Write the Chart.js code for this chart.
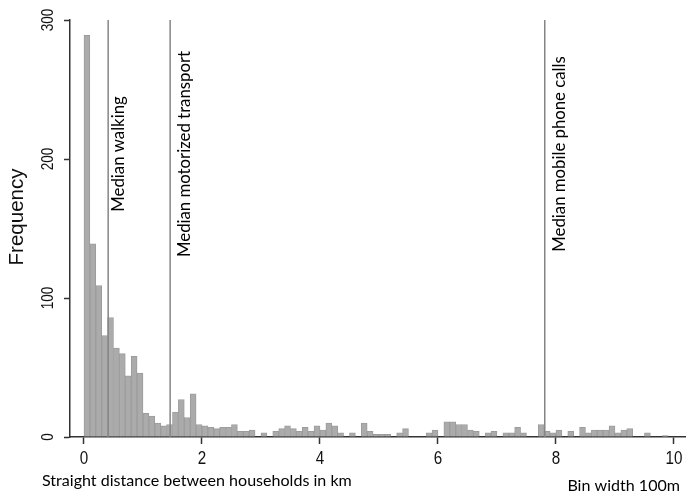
<!DOCTYPE html>
<html>
<head>
<meta charset="utf-8">
<script src="https://cdn.jsdelivr.net/npm/chart.js@4.4.1/dist/chart.umd.min.js"></script>
<style>
html,body{margin:0;padding:0;background:#ffffff;}
#wrap{width:686px;height:496px;position:relative;}
canvas{display:block;}
</style>
</head>
<body>
<div id="wrap"><canvas id="c" width="686" height="496"></canvas></div>
<script>
// ---- data ----
const binStartKm = [
  0.0,0.1,0.2,0.3,0.4,0.5,0.6,0.7,0.8,0.9,
  1.0,1.1,1.2,1.3,1.4,1.5,1.6,1.7,1.8,1.9,
  2.0,2.1,2.2,2.3,2.4,2.5,2.6,2.7,2.8,2.9,
  3.0,3.1,3.2,3.3,3.4,3.5,3.6,3.7,3.8,3.9,
  4.0,4.1,4.2,4.3,4.4,4.5,4.6,4.7,4.8,4.9,
  5.0,5.1,5.2,5.3,5.4,5.5,5.6,5.7,5.8,5.9,
  6.0,6.1,6.2,6.3,6.4,6.5,6.6,6.7,6.8,6.9,
  7.0,7.1,7.2,7.3,7.4,7.5,7.6,7.7,7.8,7.9,
  8.0,8.1,8.2,8.3,8.4,8.5,8.6,8.7,8.8,8.9,
  9.0,9.1,9.2,9.3,9.4,9.5,9.6,9.7,9.8,9.9
];
const frequency = [
  289,139,109,73,86,64,60,44,58,46,
  17,15,10,8,9,18,27,14,31,9,
  8,7,6,7,7,9,4,4,5,0,
  3,0,4,6,8,6,4,7,4,8,
  5,10,8,3,0,3,0,10,4,2,
  2,2,0,3,6,0,0,0,3,5,
  0,11,11,9,9,5,4,0,3,4,
  0,3,3,7,3,0,0,9,4,3,
  5,0,4,0,7,3,5,5,5,8,
  3,5,6,0,0,3,0,0,1,0
];
const binWidthKm = 0.1;
const medianLabels = ['Median walking', 'Median motorized transport', 'Median mobile phone calls'];
const medianKm = [0.41, 1.46, 7.81];
const xTickValues = [0, 2, 4, 6, 8, 10];
const xTickLabels = ['0', '2', '4', '6', '8', '10'];
const yTickValues = [0, 100, 200, 300];
const yTickLabels = ['0', '100', '200', '300'];
const xAxisTitle = 'Straight distance between households in km';
const yAxisTitle = 'Frequency';
const binNote = 'Bin width 100m';

// ---- helpers ----
function fitSize(ctx, text, family, targetW) {
  ctx.font = '100px ' + family;
  return 100 * targetW / ctx.measureText(text).width;
}

const LATO = 'Lato, "Open Sans", sans-serif';
const ARIAL = '"Liberation Sans", Arial, sans-serif';

const annot = {
  id: 'annot',
  afterDatasetsDraw(chart) {
    const ctx = chart.ctx;
    const x = chart.scales.x, y = chart.scales.y;
    ctx.save();
    // median lines
    ctx.strokeStyle = '#858585';
    ctx.lineWidth = 1.5;
    const labelOffsets = [16, 20, 20];
    const labSize = fitSize(ctx, medianLabels[1], LATO, 206);
    medianKm.forEach((m, i) => {
      const px = x.getPixelForValue(m);
      ctx.beginPath();
      ctx.moveTo(px, y.getPixelForValue(yTickValues[yTickValues.length - 1]));
      ctx.lineTo(px, y.getPixelForValue(0));
      ctx.stroke();
      ctx.save();
      ctx.translate(px + labelOffsets[i], 154);
      ctx.rotate(-Math.PI / 2);
      ctx.font = labSize.toFixed(2) + 'px ' + LATO;
      ctx.fillStyle = '#000';
      ctx.textAlign = 'center';
      ctx.textBaseline = 'alphabetic';
      ctx.fillText(medianLabels[i], 0, 0);
      ctx.restore();
    });
    // x tick labels (condensed)
    ctx.fillStyle = '#111';
    ctx.font = '19px ' + ARIAL;
    xTickValues.forEach((v, i) => {
      ctx.save();
      ctx.translate(x.getPixelForValue(v), 464);
      ctx.scale(0.8, 1);
      ctx.textAlign = 'center';
      ctx.textBaseline = 'alphabetic';
      ctx.fillText(xTickLabels[i], 0, 0);
      ctx.restore();
    });
    // y tick labels (rotated, condensed)
    ctx.font = '16px ' + ARIAL;
    yTickValues.forEach((v, i) => {
      ctx.save();
      ctx.translate(53, y.getPixelForValue(v));
      ctx.rotate(-Math.PI / 2);
      ctx.scale(0.85, 1);
      ctx.textAlign = 'center';
      ctx.textBaseline = 'alphabetic';
      ctx.fillText(yTickLabels[i], 0, 0);
      ctx.restore();
    });
    // y axis title
    const fSize = fitSize(ctx, yAxisTitle, ARIAL, 97);
    ctx.save();
    ctx.translate(23, 217);
    ctx.rotate(-Math.PI / 2);
    ctx.font = fSize.toFixed(2) + 'px ' + ARIAL;
    ctx.textAlign = 'center';
    ctx.textBaseline = 'alphabetic';
    ctx.fillText(yAxisTitle, 0, 0);
    ctx.restore();
    // x axis title and bin note
    ctx.fillStyle = '#000';
    const tSize = fitSize(ctx, xAxisTitle, LATO, 310);
    ctx.font = tSize.toFixed(2) + 'px ' + LATO;
    ctx.textAlign = 'left';
    ctx.textBaseline = 'alphabetic';
    ctx.fillText(xAxisTitle, 42, 486);
    ctx.textAlign = 'right';
    ctx.fillText(binNote, 680, 491);
    ctx.restore();
  }
};

const ctx = document.getElementById('c').getContext('2d');
new Chart(ctx, {
  type: 'bar',
  data: {
    datasets: [{
      data: binStartKm.map((s, i) => ({ x: s + binWidthKm / 2, y: frequency[i] })),
      backgroundColor: '#ababab',
      borderColor: '#9c9c9c',
      borderWidth: 1,
      borderSkipped: 'start',
      barPercentage: 1,
      categoryPercentage: 1
    }]
  },
  options: {
    responsive: false,
    animation: false,
    devicePixelRatio: 1,
    layout: { padding: { top: 20, left: 0, right: 0, bottom: 0 } },
    plugins: { legend: { display: false }, tooltip: { enabled: false }, title: { display: false } },
    scales: {
      x: {
        type: 'linear',
        min: -0.237,
        max: 10.204,
        offset: false,
        afterBuildTicks: s => { s.ticks = xTickValues.map(v => ({ value: v })); },
        afterFit: s => { s.height = 59; },
        grid: { display: true, drawOnChartArea: false, drawTicks: true, tickLength: 7, tickColor: '#333', tickWidth: 1.5, offset: false },
        border: { display: true, color: '#333', width: 1.5 },
        ticks: { display: false }
      },
      y: {
        type: 'linear',
        min: 0,
        max: 300,
        afterBuildTicks: s => { s.ticks = yTickValues.map(v => ({ value: v })); },
        afterFit: s => { s.width = 70; },
        grid: { display: true, drawOnChartArea: false, drawTicks: true, tickLength: 6, tickColor: '#333', tickWidth: 1.5 },
        border: { display: true, color: '#333', width: 1.5 },
        ticks: { display: false }
      }
    }
  },
  plugins: [annot]
});
</script>
</body>
</html>
